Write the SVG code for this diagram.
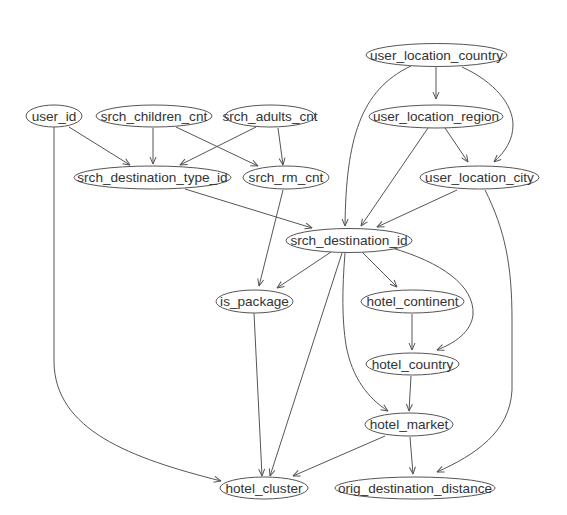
<svg xmlns="http://www.w3.org/2000/svg" width="567" height="515" viewBox="0 0 567 515">
<style>
.n ellipse{fill:#fff;stroke:#555;stroke-width:1}
.n text{font-family:"Liberation Sans",Arial,sans-serif;font-size:13.6px;fill:#333;text-anchor:middle}
.e path{fill:none;stroke:#555;stroke-width:1;marker-end:url(#a)}
</style>
<defs>
<marker id="a" markerUnits="userSpaceOnUse" markerWidth="8" markerHeight="8" viewBox="0 0 8 8" refX="7.5" refY="4" orient="auto">
<path d="M0.5,1 L7.5,4 L0.5,7" fill="none" stroke="#555" stroke-width="1"/>
</marker>
</defs>
<rect width="567" height="515" fill="#fff"/>
<g id="edges" class="e">
<path d="M69,127 L130,165"/>
<path d="M153,128 L153,164"/>
<path d="M176,127 L258,166"/>
<path d="M256,127 L180,165"/>
<path d="M278,128 L283,165"/>
<path d="M436,67 L436,99"/>
<path d="M462,67 C495,82 513,105 513,125 C513,140 505,152 494,162"/>
<path d="M411,66 C360,90 346,140 345,226"/>
<path d="M445,128 L468,162"/>
<path d="M428,128 L361,226"/>
<path d="M457,190 L377,227"/>
<path d="M485,190 C505,230 512,265 512,320 L512,390 C510,432 475,455 437,472"/>
<path d="M185,189 L312,228"/>
<path d="M283,190 L259,286"/>
<path d="M331,252 L277,288"/>
<path d="M362,252 L397,287"/>
<path d="M392,248 C440,262 475,285 473,315 C471,332 455,343 437,350"/>
<path d="M342,253 L270,476"/>
<path d="M345,253 C342,290 342,320 346,345 C352,378 368,398 388,411"/>
<path d="M254,313 L262,476"/>
<path d="M412,314 L412,350"/>
<path d="M411,376 L409,411"/>
<path d="M385,436 L293,476"/>
<path d="M410,437 L413,474"/>
<path d="M54,127 L54,362 C55,430 130,458 221,481"/>
</g>
<g id="user_id" class="n"><ellipse cx="54" cy="116" rx="28" ry="11"/><text x="54" y="120.5">user_id</text></g>
<g id="srch_children_cnt" class="n"><ellipse cx="154" cy="116" rx="58" ry="11"/><text x="154" y="120.5">srch_children_cnt</text></g>
<g id="srch_adults_cnt" class="n"><ellipse cx="270" cy="116" rx="45" ry="11"/><text x="270" y="120.5">srch_adults_cnt</text></g>
<g id="user_location_country" class="n"><ellipse cx="436.5" cy="55" rx="70.5" ry="11.5"/><text x="436.5" y="59.5">user_location_country</text></g>
<g id="user_location_region" class="n"><ellipse cx="436" cy="116.5" rx="67" ry="11.5"/><text x="436" y="121">user_location_region</text></g>
<g id="srch_destination_type_id" class="n"><ellipse cx="152.5" cy="177.5" rx="78.5" ry="11.5"/><text x="152.5" y="182">srch_destination_type_id</text></g>
<g id="srch_rm_cnt" class="n"><ellipse cx="286" cy="177.5" rx="43" ry="11.5"/><text x="286" y="182">srch_rm_cnt</text></g>
<g id="user_location_city" class="n"><ellipse cx="479.5" cy="177.5" rx="59.5" ry="11.5"/><text x="479.5" y="182">user_location_city</text></g>
<g id="srch_destination_id" class="n"><ellipse cx="349" cy="240.5" rx="63" ry="12"/><text x="349" y="245">srch_destination_id</text></g>
<g id="is_package" class="n"><ellipse cx="254.5" cy="301.5" rx="38.5" ry="11.5"/><text x="254.5" y="306">is_package</text></g>
<g id="hotel_continent" class="n"><ellipse cx="412.5" cy="301.5" rx="51.5" ry="11.5"/><text x="412.5" y="306">hotel_continent</text></g>
<g id="hotel_country" class="n"><ellipse cx="412.5" cy="364" rx="46.5" ry="11"/><text x="412.5" y="368.5">hotel_country</text></g>
<g id="hotel_market" class="n"><ellipse cx="409" cy="424.5" rx="44" ry="11.5"/><text x="409" y="429">hotel_market</text></g>
<g id="hotel_cluster" class="n"><ellipse cx="264" cy="488" rx="44" ry="11"/><text x="264" y="492.5">hotel_cluster</text></g>
<g id="orig_destination_distance" class="n"><ellipse cx="415" cy="488" rx="80" ry="11"/><text x="415" y="492.5">orig_destination_distance</text></g>
</svg>
